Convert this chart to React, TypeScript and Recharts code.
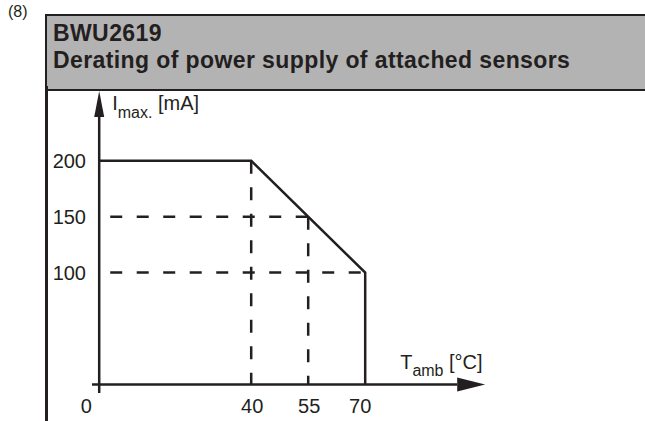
import React from "react";
import { LineChart, Line, XAxis, YAxis, ReferenceLine, ReferenceDot } from "recharts";

// derating curve: ambient temperature [°C] -> max. current [mA]
const temps = [0, 40, 70, 70];
const currents = [200, 200, 100, 0];

const xTicks = [0, 40, 55, 70];
const yTicks = [100, 150, 200];

// dashed helper lines
const vGuideTemps = [40, 55];
const vGuideTops = [200, 150];
const hGuideCurrents = [150, 100];
const hGuideEnds = [55, 70];

const data = temps.map((t, i) => ({ t, i: currents[i] }));

const INK = "#231f20";
const FONT = "'Liberation Sans', Arial, sans-serif";

const XTick = (props: any) => {
  const { x, y, payload } = props;
  const shift = payload.value === 0 ? -13 : payload.value === 70 ? -5 : 1;
  return (
    <text x={x + shift} y={y + 17} textAnchor="middle" fontSize={20} fill={INK} fontFamily={FONT}>
      {payload.value}
    </text>
  );
};

const YTick = (props: any) => {
  const { x, y, payload } = props;
  return (
    <text x={x + 2} y={y + 7} textAnchor="end" fontSize={20} fill={INK} fontFamily={FONT}>
      {payload.value}
    </text>
  );
};

const XArrow = (p: any) => (
  <g>
    <polygon points={`${p.cx},${p.cy - 7} ${p.cx + 28},${p.cy} ${p.cx},${p.cy + 7}`} fill={INK} />
    <text x={p.cx - 57} y={p.cy - 16} fontSize={20} fill={INK} fontFamily={FONT} xmlSpace="preserve">
      <tspan>T</tspan>
      <tspan fontSize={16} dy={7}>amb</tspan>
      <tspan dy={-7}> [°C]</tspan>
    </text>
  </g>
);

const YArrow = (p: any) => (
  <g>
    <polygon points={`${p.cx - 5},${p.cy} ${p.cx},${p.cy - 26} ${p.cx + 5},${p.cy}`} fill={INK} />
    <text x={p.cx + 13} y={p.cy - 7} fontSize={20} fill={INK} fontFamily={FONT} xmlSpace="preserve">
      <tspan>I</tspan>
      <tspan fontSize={16} dy={8}>max.</tspan>
      <tspan dy={-8}> [mA]</tspan>
    </text>
  </g>
);

export default function App() {
  return (
    <div style={{ position: "absolute", left: 0, top: 0, width: 645, height: 421, overflow: "hidden", background: "#fff", fontFamily: FONT, color: INK }}>
      <div style={{ position: "absolute", left: 8, top: 3, fontSize: 16 }}>(8)</div>
      <div
        style={{
          position: "absolute",
          left: 45,
          top: 14,
          width: 640,
          height: 69,
          border: `2px solid ${INK}`,
          background: "#b3b3b3",
          fontWeight: "bold",
          fontSize: 23,
          letterSpacing: 0.4,
          lineHeight: "27px",
          paddingLeft: 6,
          paddingTop: 4,
          boxSizing: "content-box",
        }}
      >
        <div>BWU2619</div>
        <div>Derating of power supply of attached sensors</div>
      </div>
      <div style={{ position: "absolute", left: 45, top: 86, width: 2.5, height: 340, background: INK }} />
      <div style={{ position: "absolute", left: 0, top: 0 }}>
        <LineChart width={645} height={421} data={data} margin={{ top: 88, right: 165.8, bottom: 0, left: 24 }}>
          <XAxis
            dataKey="t"
            type="number"
            domain={[-4, 100]}
            ticks={xTicks}
            axisLine={false}
            tickLine={false}
            tickSize={0}
            tickMargin={0}
            height={25.3}
            tick={<XTick />}
            allowDataOverflow
          />
          <YAxis
            type="number"
            domain={[-10, 265]}
            ticks={yTicks}
            axisLine={false}
            tickLine={false}
            tickSize={0}
            tickMargin={0}
            width={60}
            tick={<YTick />}
            allowDataOverflow
          />
          {vGuideTemps.map((t, k) => (
            <ReferenceLine
              key={"v" + t}
              segment={[{ x: t, y: vGuideTops[k] }, { x: t, y: 0 }]}
              stroke={INK}
              strokeWidth={2.5}
              strokeDasharray="13 13.5"
            />
          ))}
          {hGuideCurrents.map((c, k) => (
            <ReferenceLine
              key={"h" + c}
              segment={[{ x: 2.9, y: c }, { x: hGuideEnds[k], y: c }]}
              stroke={INK}
              strokeWidth={2.5}
              strokeDasharray="12 14.5"
            />
          ))}
          <ReferenceLine segment={[{ x: -1.9, y: 0 }, { x: 94.2, y: 0 }]} stroke={INK} strokeWidth={2.5} />
          <ReferenceLine segment={[{ x: 0, y: -7.6 }, { x: 0, y: 239 }]} stroke={INK} strokeWidth={2.5} />
          <ReferenceDot x={94.2} y={0} r={0} shape={<XArrow />} />
          <ReferenceDot x={0} y={239} r={0} shape={<YArrow />} />
          <Line
            type="linear"
            dataKey="i"
            stroke={INK}
            strokeWidth={2.5}
            dot={false}
            activeDot={false}
            isAnimationActive={false}
          />
        </LineChart>
      </div>
    </div>
  );
}
